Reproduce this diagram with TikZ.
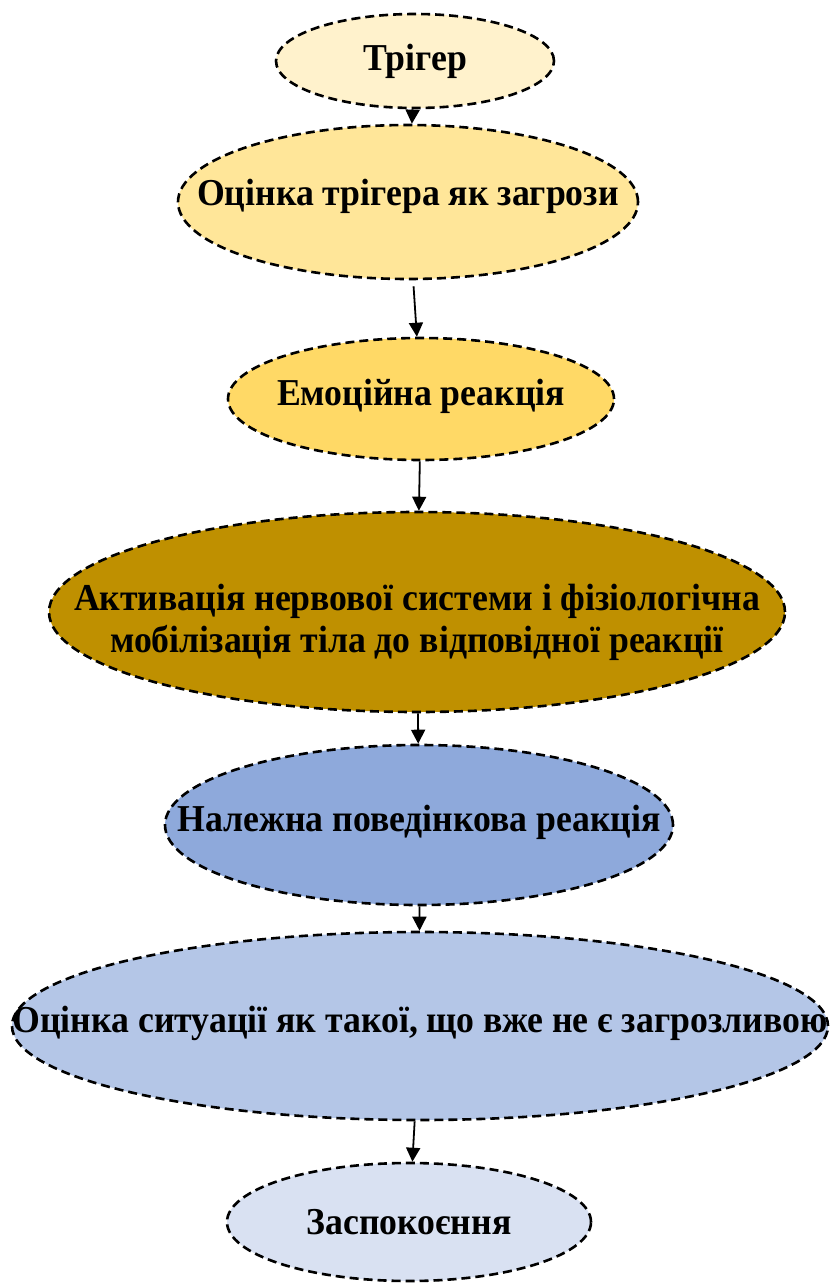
\documentclass[tikz,border=0pt]{standalone}
\usepackage{fontspec}
\setmainfont{Liberation Serif}[FakeStretch=0.94]
\usepackage{tikz}
\usetikzlibrary{shapes.geometric,arrows.meta}

\definecolor{trigfill}{HTML}{FFF2CC}
\definecolor{threatfill}{HTML}{FFE699}
\definecolor{emofill}{HTML}{FFD966}
\definecolor{nervfill}{HTML}{BF9000}
\definecolor{behavfill}{HTML}{8EA9DB}
\definecolor{safefill}{HTML}{B4C6E7}
\definecolor{calmfill}{HTML}{D9E1F2}

\begin{document}
\begin{tikzpicture}[x=0.5pt,y=-0.5pt,
    stage/.style={ellipse,draw,dash pattern=on 4.5pt off 2.5pt,line width=1.3pt,inner sep=0pt},
    tag/.style={align=center,inner sep=0pt,font=\fontsize{19}{21}\selectfont\bfseries},
    link/.style={-{Triangle[length=7pt,width=7pt]},line width=0.9pt}]
                \useasboundingbox (0,0) rectangle (832,1284);
                \node [stage,fill=trigfill,minimum width=139pt,minimum height=47pt,
                  label={[tag]center:Трігер}] (trig) at (415,61) {};
                \node [stage,fill=threatfill,minimum width=230pt,minimum height=77pt,
                  label={[tag,yshift=3pt]center:Оцінка трігера як загрози}] (threat) at (408,202) {};
                \node [stage,fill=emofill,minimum width=193pt,minimum height=61pt,
                  label={[tag,yshift=1.5pt]center:Емоційна реакція}] (emo) at (421,399) {};
                \node [stage,fill=nervfill,minimum width=368pt,minimum height=100pt,
                  label={[tag,yshift=-5pt]center:Активація нервової системи і фізіологічна\\мобілізація тіла до відповідної реакції}] (nerv) at (417,612) {};
                \node [stage,fill=behavfill,minimum width=254pt,minimum height=80pt,
                  label={[tag,yshift=1.5pt]center:Належна поведінкова реакція}] (behav) at (419,825) {};
                \node [stage,fill=safefill,minimum width=408pt,minimum height=94pt,
                  label={[tag,yshift=1.5pt]center:Оцінка ситуації як такої, що вже не є загрозливою}] (safe) at (420,1026) {};
                \node [stage,fill=calmfill,minimum width=182pt,minimum height=59pt,
                  label={[tag]center:Заспокоєння}] (calm) at (409,1222) {};
                \draw [link] (trig) -- (threat);
                \draw [link,shorten <=3pt] (threat) -- (emo);
                \draw [link] (emo) -- (nerv);
                \draw [link] (nerv) -- (behav);
                \draw [link] (behav) -- (safe);
                \draw [link] (safe) -- (calm);
\end{tikzpicture}
\end{document}
